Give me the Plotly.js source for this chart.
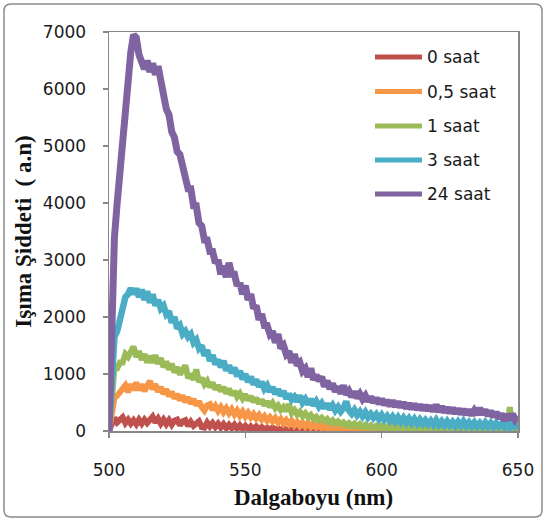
<!DOCTYPE html>
<html>
<head>
<meta charset="utf-8">
<script src="https://cdn.plot.ly/plotly-3.0.1.min.js"></script>
<style>html,body{margin:0;padding:0;background:#fff;}#chart{width:547px;height:521px;}</style>
</head>
<body>
<div id="chart"></div>
<script>
// Wavelength grid: 500 nm to 650 nm, 1 nm per sample
const wlStart = 500;
const wlStep = 1;

const seriesNames = ["0 saat", "0,5 saat", "1 saat", "3 saat", "24 saat"];
const seriesColors = ["#C0504D", "#F79646", "#9BBB59", "#4BACC6", "#8064A2"];

const s0 = [
  0,150,230,150,200,240,140,200,130,190,   // 500
  120,200,130,200,140,210,250,150,220,130, // 510
  200,120,190,110,180,200,100,170,190,90,  // 520
  160,90,150,170,70,60,150,80,140,70,      // 530
  130,60,120,50,110,50,110,40,100,40,      // 540
  90,30,80,30,80,30,70,20,60,20,           // 550
  60,20,50,10,50,10,40,10,40,10,           // 560
  40,10,30,10,30,10,30,10,30,10,           // 570
  30,10,30,10,30,10,30,10,30,10,           // 580
  30,10,30,10,30,10,30,10,30,10,           // 590
  30,10,30,10,30,10,30,10,30,10,           // 600
  30,10,30,10,30,10,30,10,30,10,           // 610
  30,10,30,10,30,10,30,10,30,10,           // 620
  30,10,30,10,30,10,30,10,30,10,           // 630
  30,10,30,10,30,10,30,10,30,10,           // 640
  20];

const s05 = [
  0,350,580,620,680,700,800,680,820,720,   // 500
  850,720,820,700,800,880,730,820,690,770, // 510
  650,730,610,690,570,650,540,620,510,590, // 520
  480,560,450,520,420,360,450,470,370,440, // 530
  350,420,330,400,310,380,290,360,270,340, // 540
  250,320,240,300,220,280,200,260,180,240, // 550
  170,230,150,210,130,190,120,180,100,160, // 560
  90,150,80,140,70,130,60,120,50,140,      // 570
  40,100,30,90,30,80,20,80,20,70,          // 580
  20,70,20,60,20,60,20,60,20,60,           // 590
  20,60,20,60,20,60,20,60,20,60,           // 600
  20,60,20,60,20,60,20,60,20,60,           // 610
  20,60,20,60,20,60,20,60,20,60,           // 620
  20,60,20,60,20,60,20,60,20,60,           // 630
  20,60,20,60,20,60,20,300,20,60,          // 640
  30];

const s1 = [
  0,600,1100,1100,1200,1200,1350,1300,1400,1480,      // 500
  1300,1400,1250,1350,1200,1320,1200,1330,1180,1280,  // 510
  1120,1220,1080,1180,1030,1120,990,1070,1150,930,    // 520
  1000,900,1080,860,930,820,880,770,850,730,          // 530
  800,700,770,660,740,630,700,600,660,570,            // 540
  640,540,610,510,580,480,550,450,520,420,            // 550
  490,400,450,370,420,350,470,320,370,290,            // 560
  340,260,310,240,280,210,250,190,230,170,            // 570
  210,150,190,130,170,120,150,100,140,90,             // 580
  130,80,120,70,110,60,100,50,90,50,                  // 590
  90,40,80,40,80,30,70,30,70,30,                      // 600
  70,30,70,30,70,30,70,30,70,30,                      // 610
  70,30,70,30,70,30,70,30,70,30,                      // 620
  70,30,70,30,70,30,70,30,70,30,                      // 630
  70,30,70,30,70,30,80,420,60,30,                     // 640
  60];

const s3 = [
  0,900,1650,1750,1950,2100,2350,2400,2500,2400,      // 500
  2500,2350,2480,2300,2450,2250,2400,2200,2300,2150,  // 510
  2200,2050,2100,1900,2000,1800,1850,1700,1750,1650,  // 520
  1700,1550,1600,1450,1500,1320,1420,1230,1330,1170,  // 530
  1250,1120,1230,1060,1150,1020,1110,960,1050,910,    // 540
  1000,860,950,820,900,780,860,740,800,690,           // 550
  770,650,730,620,700,570,650,550,600,520,            // 560
  620,500,560,470,560,450,520,430,490,400,            // 570
  480,380,450,360,420,340,400,520,360,300,            // 580
  370,280,340,260,330,240,300,230,290,210,            // 590
  280,200,260,180,250,170,240,160,230,150,            // 600
  220,140,210,130,200,130,190,120,180,110,            // 610
  190,110,170,100,170,100,160,90,160,90,              // 620
  170,90,150,80,150,80,140,80,150,80,                 // 630
  140,70,140,80,130,70,130,60,150,80,                 // 640
  140];

const s24 = [
  0,1900,3400,4000,4500,5300,5600,6300,6650,6950,     // 500
  6900,6600,6500,6350,6500,6300,6450,6250,6400,6100,  // 510
  5900,5650,5550,5250,5150,4900,4850,4600,4500,4250,  // 520
  4250,3950,3950,3650,3600,3350,3350,3150,3150,2950,  // 530
  3000,2750,2900,2700,2950,2750,2750,2550,2600,2400,  // 540
  2550,2300,2400,2150,2200,1950,2050,1850,1850,1700,  // 550
  1750,1550,1700,1450,1500,1350,1400,1200,1350,1150,  // 560
  1200,1050,1100,950,1100,900,980,880,950,780,        // 570
  880,740,830,690,780,660,800,640,700,600,            // 580
  690,580,650,560,620,520,600,500,580,480,            // 590
  560,460,540,440,530,430,510,420,500,400,            // 600
  480,390,470,380,460,370,450,360,440,350,            // 610
  460,340,430,330,410,320,400,310,390,300,            // 620
  380,290,370,280,360,290,400,290,370,270,            // 630
  350,250,330,220,300,180,290,200,300,200,            // 640
  260];

const allSeries = [s0, s05, s1, s3, s24];
const wl = s24.map((_, i) => wlStart + i * wlStep);

const xTicks = [500, 550, 600, 650];
const yTicks = [0, 1000, 2000, 3000, 4000, 5000, 6000, 7000];

const lineWidths = [6, 6, 6, 6.5, 7];
const traces = allSeries.map((ys, k) => ({
  type: "scatter",
  mode: "lines",
  x: wl,
  y: ys,
  name: seriesNames[k],
  line: {color: seriesColors[k], width: lineWidths[k]},
  showlegend: false,
  hoverinfo: "skip"
}));

// plot area in px: x 109..518, y 32..431
const L = 109, R = 518, T = 32, B = 431;
const px2x = p => (p - L) / (R - L);
const px2y = p => (B - p) / (B - T);

const legendY = [57, 91.5, 126, 160, 194];
const shapes = [];
const annotations = [];
seriesNames.forEach((nm, k) => {
  shapes.push({type: "line", xref: "paper", yref: "paper",
    x0: px2x(375), x1: px2x(422), y0: px2y(legendY[k]), y1: px2y(legendY[k]),
    line: {color: seriesColors[k], width: 5}});
  annotations.push({xref: "paper", yref: "paper", x: px2x(425), y: px2y(legendY[k]),
    xanchor: "left", yanchor: "middle", showarrow: false, text: nm,
    font: {family: "DejaVu Sans", size: 17, color: "#1a1a1a"}});
});
// outer chart border with rounded corners
(function () {
  const x0 = px2x(4), x1 = px2x(542), yb = px2y(517), yt = px2y(4);
  const rx = 7 / (R - L), ry = 7 / (B - T);
  const path = `M ${x0 + rx},${yt} L ${x1 - rx},${yt} Q ${x1},${yt} ${x1},${yt - ry} ` +
    `L ${x1},${yb + ry} Q ${x1},${yb} ${x1 - rx},${yb} L ${x0 + rx},${yb} ` +
    `Q ${x0},${yb} ${x0},${yb + ry} L ${x0},${yt - ry} Q ${x0},${yt} ${x0 + rx},${yt} Z`;
  shapes.push({type: "path", xref: "paper", yref: "paper", path: path,
    line: {color: "#8a8a8a", width: 1.5}, layer: "below"});
})();

const axisCommon = {
  showgrid: false, zeroline: false, showline: true, mirror: true,
  linecolor: "#878787", linewidth: 1.5,
  ticks: "outside", ticklen: 5, tickcolor: "#878787", tickwidth: 1.5,
  tickfont: {family: "DejaVu Sans", size: 17, color: "#1a1a1a"}
};

const layout = {
  width: 547, height: 521,
  margin: {l: L, r: 547 - R, t: T, b: 521 - B},
  paper_bgcolor: "#ffffff", plot_bgcolor: "#ffffff",
  showlegend: false,
  xaxis: Object.assign({}, axisCommon, {
    range: [500, 650], tickvals: xTicks, ticktext: xTicks.map(String),
    ticklabelstandoff: 18,
    title: {text: "<b>Dalgaboyu (nm)</b>", standoff: 10,
      font: {family: "Liberation Serif", size: 23, color: "#111"}}
  }),
  yaxis: Object.assign({}, axisCommon, {
    range: [0, 7000], tickvals: yTicks, ticktext: yTicks.map(String),
    ticklabelstandoff: 13,
    title: {text: "<b>Işıma Şiddeti  ( a.n)</b>", standoff: 5,
      font: {family: "Liberation Serif", size: 23, color: "#111"}}
  }),
  shapes: shapes,
  annotations: annotations
};

Plotly.newPlot("chart", traces, layout, {staticPlot: true, displayModeBar: false});
</script>
</body>
</html>
